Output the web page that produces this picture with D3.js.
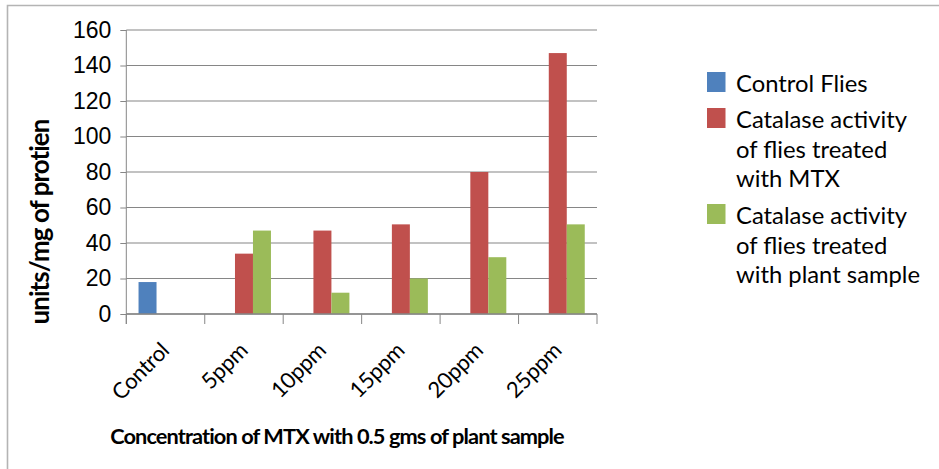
<!DOCTYPE html>
<html>
<head>
<meta charset="utf-8">
<script src="https://cdn.jsdelivr.net/npm/d3@7"></script>
<style>
  html, body { margin: 0; padding: 0; background: #fff; }
  svg { display: block; }
</style>
</head>
<body>
<svg id="chart" width="939" height="469"></svg>
<script>
// ---- Data ----
const categories = ["Control", "5ppm", "10ppm", "15ppm", "20ppm", "25ppm"];
const controlFlies = [18, null, null, null, null, null];
const mtxTreated = [null, 34, 47, 50.5, 80, 147];
const plantTreated = [null, 47, 12, 20, 32, 50.5];
const yTicks = [0, 20, 40, 60, 80, 100, 120, 140, 160];
const seriesNames = [
  ["Control Flies"],
  ["Catalase activity", "of flies treated", "with MTX"],
  ["Catalase activity", "of flies treated", "with plant sample"]
];
const seriesColors = ["#4f81bd", "#c0504d", "#9bbb59"];
const yTitle = "units/mg of protien";
const xTitle = "Concentration of MTX with 0.5 gms of plant sample";

const series = [controlFlies, mtxTreated, plantTreated];

// ---- Layout ----
const svg = d3.select("#chart");
const W = 939, H = 469;
const plot = { left: 126.3, right: 597, top: 30, bottom: 314 };
const axisColor = "#868686";
const textFont = "Lato, 'Open Sans', sans-serif";

// chart border (left & top visible)
svg.append("path")
  .attr("d", `M7.5,${H} L7.5,5.5 L${W},5.5`)
  .attr("fill", "none").attr("stroke", "#b4b4b4").attr("stroke-width", 1.6);

const x0 = d3.scaleBand().domain(categories)
  .range([plot.left, plot.right])
  .paddingInner(0.312).paddingOuter(0.156);
const x1 = d3.scaleBand().domain(d3.range(series.length))
  .range([0, x0.bandwidth()]);
const y = d3.scaleLinear().domain([0, 160]).range([plot.bottom, plot.top]);

// gridlines
svg.append("g").selectAll("line").data(yTicks).join("line")
  .attr("x1", plot.left).attr("x2", plot.right)
  .attr("y1", d => y(d)).attr("y2", d => y(d))
  .attr("stroke", axisColor).attr("stroke-width", 1.1);

// bars
const barData = [];
series.forEach((s, si) => s.forEach((v, ci) => {
  if (v != null) barData.push({ si, cat: categories[ci], v });
}));
svg.append("g").selectAll("rect").data(barData).join("rect")
  .attr("x", d => x0(d.cat) + x1(d.si))
  .attr("width", x1.bandwidth())
  .attr("y", d => y(d.v))
  .attr("height", d => y(0) - y(d.v))
  .attr("fill", d => seriesColors[d.si]);

// y axis
const yAxis = svg.append("g")
  .attr("transform", `translate(${plot.left},0)`)
  .call(d3.axisLeft(y).tickValues(yTicks).tickSize(6).tickPadding(9).tickSizeOuter(0));
yAxis.select(".domain").remove();
yAxis.selectAll(".tick line").attr("stroke", axisColor);
yAxis.selectAll(".tick text")
  .attr("font-family", "'Liberation Sans', Arial, sans-serif")
  .attr("font-size", 23).attr("fill", "#000");
svg.append("line")
  .attr("x1", plot.left).attr("x2", plot.left)
  .attr("y1", plot.top).attr("y2", plot.bottom + 10)
  .attr("stroke", axisColor);

// x axis baseline + boundary ticks
svg.append("line")
  .attr("x1", plot.left).attr("x2", plot.right)
  .attr("y1", plot.bottom).attr("y2", plot.bottom)
  .attr("stroke", axisColor).attr("stroke-width", 1.5);
const boundaries = categories.map(c => x0(c) - x0.step() * x0.paddingOuter()).concat([plot.right]);
svg.append("g").selectAll("line").data(boundaries).join("line")
  .attr("x1", d => d).attr("x2", d => d)
  .attr("y1", plot.bottom).attr("y2", plot.bottom + 10)
  .attr("stroke", axisColor);

// x tick labels (rotated)
svg.append("g").selectAll("text").data(categories).join("text")
  .attr("transform", d => `translate(${x0(d) + x0.bandwidth() / 2 + 5},352) rotate(-45)`)
  .attr("text-anchor", "end")
  .attr("font-family", textFont).attr("font-size", 22)
  .attr("letter-spacing", -0.3)
  .attr("fill", "#000")
  .text(d => d);

// helper: fit font size to a target width
function fitWidth(sel, target, base) {
  sel.attr("font-size", base);
  const len = sel.node().getComputedTextLength();
  sel.attr("font-size", base * target / len);
}

// y title
const yt = svg.append("text")
  .attr("transform", "translate(49,222) rotate(-90)")
  .attr("text-anchor", "middle")
  .attr("font-family", textFont).attr("font-weight", "bold")
  .attr("letter-spacing", -0.9)
  .attr("fill", "#000").text(yTitle);
fitWidth(yt, 200, 20);

// x title
const xt = svg.append("text")
  .attr("x", 337).attr("y", 444)
  .attr("text-anchor", "middle")
  .attr("font-family", textFont).attr("font-weight", "bold")
  .attr("letter-spacing", -0.9)
  .attr("fill", "#000").text(xTitle);
fitWidth(xt, 450, 20);

// legend
const legendTop = [92, 128, 224];
const lineGap = 29.5;
const leg = svg.append("g");
seriesNames.forEach((lines, i) => {
  leg.append("rect")
    .attr("x", 707).attr("y", legendTop[i] - 20)
    .attr("width", 18.5).attr("height", 20)
    .attr("fill", seriesColors[i]);
  const t = leg.append("text")
    .attr("font-family", textFont).attr("font-size", 23.8).attr("fill", "#000");
  lines.forEach((ln, j) => {
    t.append("tspan").attr("x", 736).attr("y", legendTop[i] + j * lineGap).text(ln);
  });
});
</script>
</body>
</html>
